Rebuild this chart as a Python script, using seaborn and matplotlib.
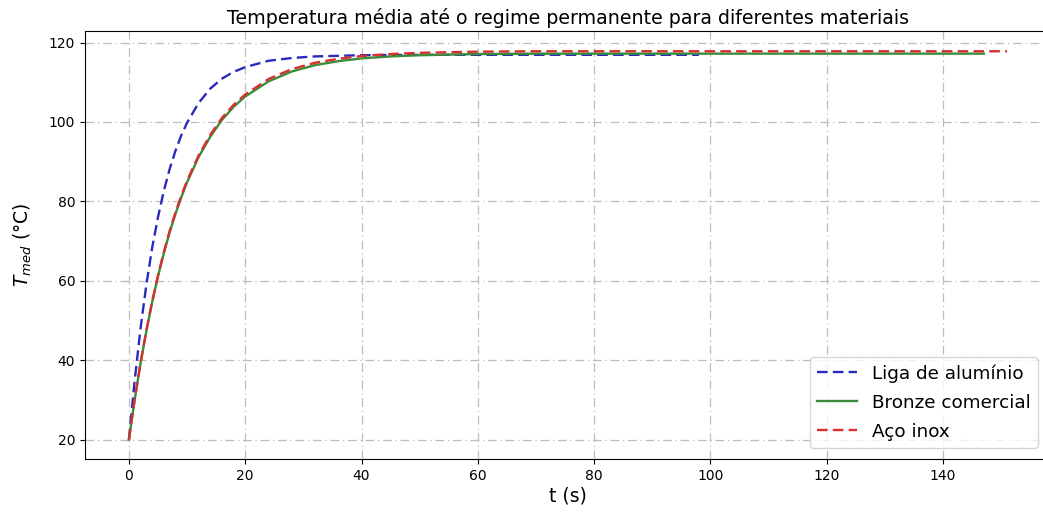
import matplotlib
matplotlib.use("Agg")
import matplotlib.pyplot as plt
import seaborn as sns
import pandas as pd

# Liga de alumínio
t_al = [0, 1, 2, 3, 4, 5, 6, 7, 8, 9, 10, 12, 14, 16, 18, 20, 24, 28, 32, 40, 50, 60, 80, 98]
T_al = [20, 35.0, 48.0, 59.0, 68.3, 76.0, 82.6, 88.1, 92.7, 96.6, 99.8, 104.8, 108.4, 110.9,
        112.6, 113.8, 115.4, 116.1, 116.5, 116.8, 116.9, 116.9, 116.9, 116.9]

# Bronze comercial
t_br = [0, 1, 2, 3, 4, 5, 6, 7, 8, 9, 10, 12, 14, 16, 18, 20, 24, 28, 32, 36, 40, 45, 50, 60,
        70, 100, 147]
T_br = [20, 30.1, 39.2, 47.3, 54.6, 61.1, 66.9, 72.2, 76.8, 81.0, 84.8, 91.2, 96.3, 100.5,
        103.8, 106.4, 110.2, 112.7, 114.3, 115.3, 116.0, 116.5, 116.8, 117.1, 117.2, 117.2, 117.2]

# Aço inox
t_ac = [0, 1, 2, 3, 4, 5, 6, 7, 8, 9, 10, 12, 14, 16, 18, 20, 24, 28, 32, 36, 40, 45, 50, 60,
        70, 100, 151]
T_ac = [20, 30.2, 39.3, 47.5, 54.8, 61.3, 67.2, 72.5, 77.2, 81.4, 85.2, 91.6, 96.8, 101.0,
        104.3, 106.9, 110.8, 113.3, 114.9, 115.9, 116.6, 117.1, 117.4, 117.7, 117.8, 117.8, 117.8]

labels = ["Liga de alumínio", "Bronze comercial", "Aço inox"]

fig = plt.figure(figsize=(10.43, 5.12), dpi=100)
ax = fig.add_axes([85 / 1043, 53 / 512, (1051 - 85) / 1043, (459 - 31) / 512])

df_al = pd.DataFrame({"t": t_al, "T": T_al})
df_br = pd.DataFrame({"t": t_br, "T": T_br})
df_ac = pd.DataFrame({"t": t_ac, "T": T_ac})

sns.lineplot(data=df_al, x="t", y="T", ax=ax, color="#2a2abb", linestyle=(0, (4.5, 2.2)), lw=1.7,
             label=labels[0])
sns.lineplot(data=df_br, x="t", y="T", ax=ax, color="#3a8c3a", linestyle="-", lw=1.7,
             label=labels[1])
sns.lineplot(data=df_ac, x="t", y="T", ax=ax, color="#d83030", linestyle=(0, (4.5, 2.2)), lw=1.7,
             label=labels[2])

ax.set_xlim(-7.55, 158.55)
ax.set_ylim(15.1, 122.9)
ax.set_xticks([0, 20, 40, 60, 80, 100, 120, 140])
ax.set_yticks([20, 40, 60, 80, 100, 120])
ax.tick_params(labelsize=10)
ax.grid(True, linestyle=(0, (7, 3, 1, 3)), color="#bdbdbd", lw=0.9)
ax.set_xlabel("t (s)", fontsize=13.5, labelpad=3)
ax.set_ylabel("$T_{med}$ (°C)", fontsize=13.5, labelpad=11)
ax.set_title("Temperatura média até o regime permanente para diferentes materiais",
             fontsize=13.7, pad=5)
ax.legend(loc="lower right", fontsize=13.2, bbox_to_anchor=(0.9865, 0.0257), borderaxespad=0,
          handlelength=2.2, labelspacing=0.6)

fig.savefig("out.png", dpi=100)
